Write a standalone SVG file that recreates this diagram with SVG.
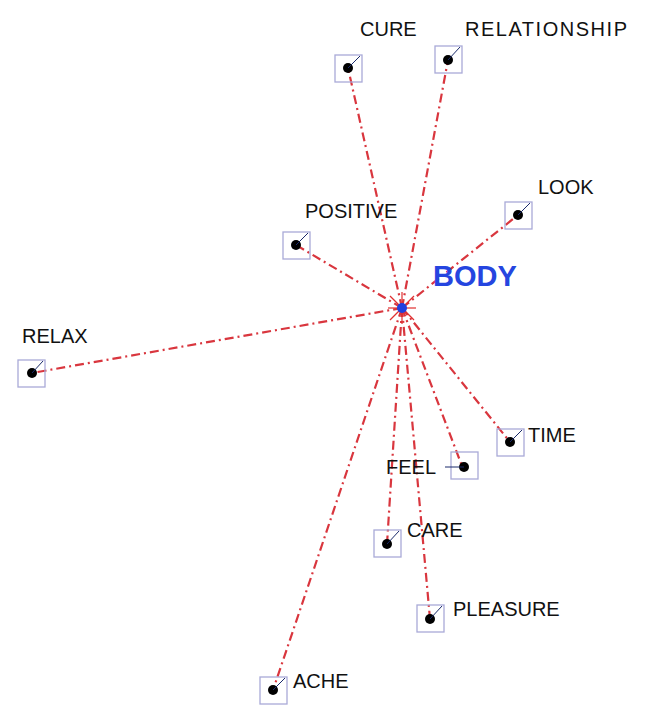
<svg xmlns="http://www.w3.org/2000/svg" width="646" height="725" viewBox="0 0 646 725">
<style>
.e{stroke:#d9363e;stroke-width:2.2;stroke-dasharray:9 4 2 4;fill:none}
.b{fill:none;stroke:#a9aad8;stroke-width:1.3}
.d{fill:#000}
.t{stroke:#1a2a6a;stroke-width:1}
.l{font-family:"Liberation Sans",Arial,sans-serif;font-size:20px;fill:#111}
</style>
<rect width="646" height="725" fill="#fff"/>
<g id="connectors">
<line class="e" x1="402" y1="308" x2="348" y2="68"/>
<line class="e" x1="402" y1="308" x2="448" y2="60"/>
<line class="e" x1="402" y1="308" x2="518" y2="215"/>
<line class="e" x1="402" y1="308" x2="296" y2="245"/>
<line class="e" x1="402" y1="308" x2="32" y2="373"/>
<line class="e" x1="402" y1="308" x2="510" y2="442"/>
<line class="e" x1="402" y1="308" x2="462" y2="466"/>
<line class="e" x1="402" y1="308" x2="387" y2="544"/>
<line class="e" x1="402" y1="308" x2="430" y2="619"/>
<line class="e" x1="402" y1="308" x2="273" y2="690"/>
</g>
<g id="BODY">
<g stroke="#e03030" stroke-width="1.2">
<line x1="390" y1="296" x2="414" y2="320"/><line x1="414" y1="296" x2="390" y2="320"/>
<line x1="388" y1="308" x2="416" y2="308"/><line x1="402" y1="292" x2="402" y2="324"/>
</g>
<circle cx="402" cy="308" r="5" fill="#2040e0"/>
<text x="433" y="286" font-family="Liberation Sans,Arial,sans-serif" font-size="29" font-weight="bold" fill="#2545e0">BODY</text>
</g>
<g id="CURE"><rect class="b" x="335" y="55" width="27" height="27"/><circle class="d" cx="348" cy="68" r="5"/><line class="t" x1="348" y1="68" x2="360" y2="56"/><text class="l" x="360" y="36">CURE</text></g>
<g id="RELATIONSHIP"><rect class="b" x="435" y="46" width="27" height="27"/><circle class="d" cx="448" cy="60" r="5"/><line class="t" x1="448" y1="60" x2="460" y2="47"/><text class="l" x="465" y="36" textLength="162">RELATIONSHIP</text></g>
<g id="LOOK"><rect class="b" x="505" y="202" width="27" height="27"/><circle class="d" cx="518" cy="215" r="5"/><line class="t" x1="518" y1="215" x2="530" y2="203"/><text class="l" x="538" y="194">LOOK</text></g>
<g id="POSITIVE"><rect class="b" x="283" y="232" width="27" height="27"/><circle class="d" cx="296" cy="245" r="5"/><line class="t" x1="296" y1="245" x2="308" y2="233"/><text class="l" x="305" y="218">POSITIVE</text></g>
<g id="RELAX"><rect class="b" x="18" y="360" width="27" height="27"/><circle class="d" cx="32" cy="373" r="5"/><line class="t" x1="32" y1="373" x2="43" y2="361"/><text class="l" x="22" y="343">RELAX</text></g>
<g id="TIME"><rect class="b" x="497" y="429" width="27" height="27"/><circle class="d" cx="510" cy="442" r="5"/><line class="t" x1="510" y1="442" x2="522" y2="430"/><text class="l" x="528" y="442">TIME</text></g>
<g id="FEEL"><rect class="b" x="451" y="452" width="27" height="27"/><circle class="d" cx="464" cy="467" r="5"/><line class="t" x1="464" y1="467" x2="445" y2="467"/><text class="l" x="386" y="474">FEEL</text></g>
<g id="CARE"><rect class="b" x="374" y="530" width="27" height="27"/><circle class="d" cx="387" cy="544" r="5"/><line class="t" x1="387" y1="544" x2="399" y2="531"/><text class="l" x="407" y="537">CARE</text></g>
<g id="PLEASURE"><rect class="b" x="417" y="605" width="27" height="27"/><circle class="d" cx="430" cy="619" r="5"/><line class="t" x1="430" y1="619" x2="442" y2="606"/><text class="l" x="453" y="616">PLEASURE</text></g>
<g id="ACHE"><rect class="b" x="260" y="677" width="27" height="27"/><circle class="d" cx="273" cy="690" r="5"/><line class="t" x1="273" y1="690" x2="285" y2="678"/><text class="l" x="293" y="688">ACHE</text></g>
</svg>
